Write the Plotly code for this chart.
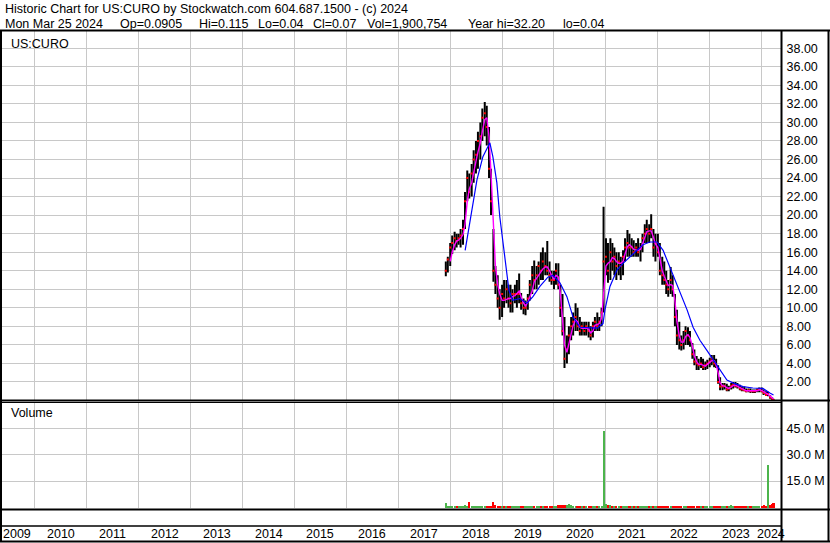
import pandas as pd
import plotly.graph_objects as go

# ---------------------------------------------------------------- data
# half-monthly samples, Dec 2017 -> Mar 25 2024
dates = list(pd.date_range("2017-12-01", "2024-03-15", freq="SMS")) + [pd.Timestamp("2024-03-25")]

high = [
    15.0, 15.5,
    17.0, 17.8, 18.2, 18.0, 18.0, 18.5, 19.5, 22.5, 24.8, 24.5, 25.5, 27.0, 28.0, 29.0, 30.0, 31.5, 32.2, 31.8, 29.5, 25.0, 18.5, 14.5, 13.5, 12.0,
    12.5, 13.0, 13.0, 12.5, 12.5, 12.0, 12.5, 13.0, 13.7, 11.6, 11.0, 10.8, 11.5, 13.0, 14.5, 15.1, 14.5, 15.0, 16.0, 16.5, 16.0, 17.2, 15.0, 14.0,
    14.0, 14.8, 14.8, 12.5, 11.5, 9.0, 7.0, 8.0, 9.0, 9.5, 10.5, 10.0, 9.0, 8.5, 8.5, 8.5, 8.5, 8.0, 8.5, 9.0, 9.5, 9.0, 10.0, 20.9,
    17.5, 17.0, 17.5, 17.0, 16.5, 16.0, 16.0, 15.5, 16.2, 17.5, 18.4, 18.0, 17.5, 17.3, 17.0, 17.5, 17.0, 18.0, 19.0, 19.5, 19.0, 20.1, 18.5, 18.0,
    18.0, 17.0, 15.5, 15.0, 14.0, 13.0, 14.4, 13.5, 11.5, 9.8, 8.5, 7.0, 7.5, 8.0, 7.9, 7.5, 6.2, 5.5, 4.8, 4.5, 4.7, 4.5, 4.2, 4.4,
    4.6, 4.9, 4.9, 4.5, 3.8, 2.5, 1.9, 1.9, 1.8, 1.6, 1.9, 2.0, 2.0, 1.9, 1.7, 1.5, 1.5, 1.3, 1.3, 1.3, 1.2, 1.2, 1.3, 1.4,
    1.4, 1.2, 1.0, 0.95, 0.6, 0.35, 0.115,
]
low = [
    13.4, 13.8,
    14.5, 15.8, 16.2, 16.5, 16.8, 16.5, 16.8, 18.5, 21.5, 21.8, 22.0, 23.5, 24.5, 25.0, 26.0, 28.0, 28.5, 27.5, 24.0, 20.0, 12.8, 11.5, 10.0, 8.7,
    9.0, 10.0, 10.5, 10.0, 9.5, 9.5, 10.5, 10.0, 10.5, 9.8, 9.3, 9.2, 9.8, 10.8, 11.5, 12.0, 12.0, 12.5, 13.0, 13.0, 13.5, 13.5, 12.8, 12.5,
    12.0, 12.5, 12.0, 9.0, 7.0, 3.5, 4.0, 5.0, 6.5, 7.0, 7.5, 7.5, 7.0, 7.0, 7.0, 7.0, 6.8, 6.5, 6.8, 7.5, 7.5, 7.5, 8.0, 9.5,
    13.5, 12.7, 13.0, 14.0, 13.5, 13.0, 13.5, 13.0, 13.5, 15.0, 15.5, 15.5, 15.5, 15.5, 15.5, 15.5, 15.0, 16.0, 17.0, 17.0, 17.0, 17.5, 15.5, 15.0,
    15.5, 13.5, 12.5, 12.5, 11.5, 11.2, 11.5, 11.2, 8.0, 6.0, 5.5, 5.4, 5.5, 6.0, 6.0, 5.8, 4.5, 3.8, 3.3, 3.3, 3.5, 3.3, 3.3, 3.4,
    3.6, 3.8, 3.6, 3.5, 1.8, 1.1, 1.1, 1.2, 1.0, 1.0, 1.2, 1.3, 1.4, 1.3, 1.1, 1.0, 1.0, 0.9, 0.9, 0.8, 0.8, 0.8, 0.9, 0.9,
    0.9, 0.6, 0.5, 0.45, 0.2, 0.04, 0.04,
]
close = [
    14.0, 15.2,
    16.5, 17.0, 17.5, 17.2, 17.5, 17.8, 18.5, 21.5, 24.0, 22.5, 24.5, 26.0, 26.5, 28.0, 28.5, 30.5, 31.0, 29.5, 25.0, 21.5, 14.0, 12.5, 11.0, 10.0,
    11.5, 11.0, 12.0, 11.0, 10.5, 11.5, 11.5, 11.5, 11.5, 10.5, 10.0, 10.0, 11.0, 12.5, 13.5, 13.0, 13.5, 14.5, 14.0, 15.0, 14.5, 14.0, 13.5, 13.0,
    13.0, 14.0, 12.5, 10.0, 7.5, 4.5, 5.5, 7.0, 8.0, 8.5, 9.0, 8.0, 7.5, 8.0, 7.5, 8.0, 7.5, 7.0, 8.0, 8.5, 8.0, 8.5, 9.5, 15.0,
    15.5, 14.0, 16.0, 15.0, 15.5, 14.5, 15.0, 14.5, 15.5, 16.5, 17.0, 16.5, 16.5, 16.0, 16.5, 16.0, 16.5, 17.5, 18.0, 18.5, 18.0, 18.5, 16.5, 17.0,
    16.0, 14.0, 13.5, 13.0, 12.5, 12.0, 13.0, 12.0, 9.0, 7.0, 6.5, 6.0, 6.5, 7.5, 7.0, 6.5, 5.0, 4.2, 4.0, 3.8, 4.0, 3.6, 3.8, 4.0,
    4.2, 4.5, 4.0, 3.8, 2.0, 1.5, 1.5, 1.6, 1.2, 1.3, 1.6, 1.7, 1.6, 1.5, 1.3, 1.2, 1.1, 1.0, 1.1, 1.0, 1.0, 1.0, 1.1, 1.2,
    1.0, 0.8, 0.6, 0.7, 0.35, 0.15, 0.07,
]
ma_fast = [
    None, None,
    15.0, 16.0, 16.8, 17.2, 17.3, 17.5, 17.9, 19.0, 21.5, 22.8, 23.5, 24.8, 25.8, 26.8, 27.8, 29.0, 30.3, 30.5, 28.5, 24.5, 19.0, 14.5, 12.5, 11.5,
    10.8, 10.8, 10.9, 11.0, 11.0, 11.2, 11.3, 11.5, 11.8, 11.2, 10.5, 10.2, 10.6, 11.2, 11.8, 12.8, 13.2, 13.5, 13.8, 14.2, 14.4, 14.4, 14.0, 13.5,
    13.1, 13.5, 13.3, 11.5, 8.8, 6.0, 5.2, 6.2, 7.3, 8.1, 8.7, 8.5, 7.9, 7.8, 7.8, 7.8, 7.7, 7.3, 7.5, 8.1, 8.2, 8.3, 8.9, 11.5,
    14.5, 14.8, 15.0, 15.4, 15.3, 15.0, 14.8, 14.8, 15.0, 15.8, 16.6, 16.8, 16.6, 16.3, 16.2, 16.2, 16.3, 16.9, 17.6, 18.2, 18.3, 18.3, 17.6, 16.9,
    16.5, 15.2, 14.0, 13.4, 12.9, 12.4, 12.5, 12.4, 10.8, 8.5, 7.0, 6.3, 6.3, 6.9, 7.1, 6.8, 5.9, 4.8, 4.2, 3.9, 3.9, 3.8, 3.7, 3.9,
    4.1, 4.3, 4.3, 3.9, 3.0, 1.9, 1.6, 1.55, 1.4, 1.3, 1.45, 1.6, 1.65, 1.55, 1.4, 1.25, 1.15, 1.05, 1.05, 1.05, 1.0, 1.0, 1.05, 1.15,
    1.1, 0.95, 0.8, 0.7, 0.5, 0.3, 0.15,
]
volume_m = [
    2.5, 0.8,
    0.6, 0.5, 0.6, 0.5, 0.7, 0.5, 0.6, 1.2, 0.9, 3.0, 0.6, 0.7, 0.5, 0.6, 0.8, 0.6, 0.7, 0.5, 0.9, 1.0, 3.0, 1.2, 0.8, 0.9,
    0.7, 0.6, 0.8, 0.6, 0.5, 0.7, 0.6, 0.5, 0.6, 0.5, 0.6, 0.7, 0.8, 0.9, 1.0, 0.8, 0.9, 0.8, 1.0, 0.9, 1.1, 1.0, 0.9, 1.0,
    1.1, 1.0, 1.2, 1.3, 1.5, 1.4, 1.2, 1.8, 1.2, 1.0, 0.9, 0.8, 0.7, 0.6, 0.6, 0.7, 0.6, 0.5, 0.6, 0.7, 0.8, 0.7, 1.0, 43.5,
    2.0, 1.5, 1.2, 0.8, 0.6, 0.5, 0.5, 0.4, 0.5, 0.6, 0.7, 0.5, 0.4, 0.4, 0.5, 0.4, 0.4, 0.5, 0.5, 0.6, 0.5, 0.6, 0.7, 0.6,
    0.6, 0.7, 0.6, 0.5, 0.6, 0.5, 0.6, 0.5, 0.9, 0.8, 0.6, 0.5, 0.5, 0.6, 0.5, 0.4, 0.5, 0.6, 0.5, 0.4, 0.4, 0.5, 0.4, 0.5,
    0.5, 0.6, 0.5, 0.6, 1.0, 1.0, 0.8, 0.6, 0.5, 0.4, 1.6, 0.6, 0.5, 0.4, 0.5, 0.4, 0.4, 0.5, 0.4, 0.5, 0.4, 0.5, 0.6, 0.8,
    0.9, 1.2, 1.0, 24.4, 1.5, 1.8, 2.7,
]

# slow moving average (blue), read at its own points
ma_slow_dates = [
    "2018-04-16", "2018-05-21", "2018-07-08", "2018-08-19", "2018-10-07", "2018-10-28", "2018-11-25", "2018-12-16",
    "2019-01-14", "2019-02-04", "2019-02-18", "2019-03-17", "2019-05-06", "2019-06-25", "2019-08-06", "2019-09-24",
    "2019-11-19", "2019-12-24", "2020-02-12", "2020-04-01", "2020-05-14", "2020-07-02", "2020-09-11", "2020-10-30",
    "2020-12-11", "2020-12-25", "2021-01-29", "2021-03-20", "2021-05-01", "2021-06-19", "2021-08-07", "2021-09-18",
    "2021-11-06", "2021-12-26", "2022-02-07", "2022-03-07", "2022-04-17", "2022-06-06", "2022-07-25", "2022-09-06",
    "2022-10-24", "2022-12-12", "2023-01-24", "2023-03-14", "2023-05-02", "2023-06-13", "2023-08-23", "2023-11-01",
    "2024-01-10", "2024-02-28", "2024-03-25",
]
ma_slow = [
    16.2, 19.5, 23.8, 26.3, 27.8, 26.3, 23.5, 19.8,
    16.0, 13.5, 11.9, 10.8, 11.0, 10.5, 11.2, 12.3,
    13.3, 13.5, 12.7, 11.2, 9.0, 7.9, 7.8, 7.8,
    8.3, 9.8, 12.3, 14.1, 14.8, 15.5, 16.2, 16.8,
    17.1, 17.1, 16.2, 15.1, 13.7, 11.6, 9.8, 7.9,
    6.5, 5.4, 4.4, 3.3, 2.2, 1.9, 1.5, 1.35,
    1.3, 0.8, 0.6,
]

years = list(range(2009, 2025))
price_ticks = list(range(2, 40, 2))
vol_ticks = [15e6, 30e6, 45e6]
vol_tick_text = ["15.0 M", "30.0 M", "45.0 M"]

title_line = "Historic Chart for US:CURO by Stockwatch.com 604.687.1500 - (c) 2024"
quote_fields = ["Mon Mar 25 2024", "Op=0.0905", "Hi=0.115", "Lo=0.04", "Cl=0.07",
                "Vol=1,900,754", "Year hi=32.20", "lo=0.04"]
quote_field_x = [3, 118, 197, 256, 311, 365, 466, 561]

# ---------------------------------------------------------------- layout helpers
W, H = 830, 543
FONT = "Liberation Sans, Arial, sans-serif"
GRID = "#c8c8c8"
X0 = pd.Timestamp("2009-04-30")
X1 = pd.Timestamp("2024-05-16 12:00")


def fx(px):
    return px / W


def fy(py):
    return 1 - py / H


# ---------------------------------------------------------------- traces
bar_x, bar_y = [], []
for d, h, l in zip(dates, high, low):
    bar_x += [d, d, None]
    bar_y += [l, h, None]

vol_colors = ["#4cb44c"]
for prev, cur in zip(close[:-1], close[1:]):
    vol_colors.append("#4cb44c" if cur >= prev else "#ff0000")

fig = go.Figure()
fig.add_trace(go.Scatter(x=bar_x, y=bar_y, mode="lines",
                         line=dict(color="black", width=2), xaxis="x", yaxis="y"))
fig.add_trace(go.Scatter(x=dates, y=close, mode="markers",
                         marker=dict(symbol="square", size=2, color="#ff0000"), xaxis="x", yaxis="y"))
fig.add_trace(go.Scatter(x=dates, y=ma_fast, mode="lines",
                         line=dict(color="#ff00ff", width=1.4), xaxis="x", yaxis="y"))
fig.add_trace(go.Scatter(x=ma_slow_dates, y=ma_slow, mode="lines",
                         line=dict(color="#0000ff", width=1.2), xaxis="x", yaxis="y"))
fig.add_trace(go.Bar(x=dates, y=[v * 1e6 for v in volume_m], marker_color=vol_colors,
                     marker_line_width=0, width=15 * 86400000, xaxis="x2", yaxis="y2"))

# ---------------------------------------------------------------- axes
xdom = [0, fx(781)]
xcommon = dict(type="date", dtick="M12", tick0="2010-01-01", showticklabels=False,
               ticks="", showline=False, zeroline=False, domain=xdom)

tickfont = dict(family=FONT, size=12.5, color="black")

fig.update_layout(
    xaxis=dict(**xcommon, range=[X0, X1], showgrid=True, gridcolor=GRID, anchor="y"),
    xaxis2=dict(**xcommon, matches="x", showgrid=True, gridcolor=GRID, anchor="y2"),
    xaxis3=dict(**xcommon, matches="x", showgrid=True, gridcolor="black", anchor="y3"),
    yaxis=dict(domain=[fy(400.5), fy(31)], range=[0, 39.86], side="right",
               tickvals=price_ticks, tickformat=".2f", showgrid=True, gridcolor=GRID,
               zeroline=False, showline=False, ticks="outside", ticklen=2,
               tickcolor="rgba(0,0,0,0)", tickfont=tickfont),
    yaxis2=dict(domain=[fy(508), fy(403)], range=[-0.284e6, 59.38e6], side="right",
                tickvals=vol_ticks, ticktext=vol_tick_text, showgrid=True, gridcolor=GRID,
                zeroline=False, showline=False, ticks="outside", ticklen=2,
                tickcolor="rgba(0,0,0,0)", tickfont=tickfont),
    yaxis3=dict(domain=[fy(541), fy(510)], range=[0, 1], showgrid=False,
                showticklabels=False, zeroline=False, showline=False),
)

# ---------------------------------------------------------------- frame lines
frame = [
    (0, 30.5, 830, 30.5, 2),
    (1, 30, 1, 542, 2),
    (828.5, 30, 828.5, 542, 2),
    (0, 541.5, 830, 541.5, 2),
    (781.5, 30, 781.5, 542, 2),
    (0, 400.5, 830, 400.5, 2),
    (0, 402.5, 781, 402.5, 1),
    (0, 509.5, 830, 509.5, 2),
    (0, 526, 781, 526, 1.5),
]
for x0, y0, x1, y1, w in frame:
    fig.add_shape(type="line", xref="paper", yref="paper",
                  x0=fx(x0), y0=fy(y0), x1=fx(x1), y1=fy(y1),
                  line=dict(color="black", width=w))

# ---------------------------------------------------------------- text
txt = dict(family=FONT, size=12.5, color="black")
notes = [(3, 9, title_line), (9, 44, "US:CURO"), (9, 413, "Volume")]
notes += [(x, 24, t) for x, t in zip(quote_field_x, quote_fields)]
for x, y, t in notes:
    fig.add_annotation(x=fx(x), y=fy(y), xref="paper", yref="paper", text=t,
                       showarrow=False, xanchor="left", yanchor="middle", font=txt)

for yr in years:
    a = max(pd.Timestamp(yr, 1, 1), X0)
    b = min(pd.Timestamp(yr + 1, 1, 1), X1)
    mid = a + (b - a) / 2
    fig.add_annotation(x=mid, y=fy(534), xref="x", yref="paper", text=str(yr),
                       showarrow=False, xanchor="center", yanchor="middle", font=txt)

fig.update_layout(
    width=W, height=H, autosize=False,
    margin=dict(l=0, r=0, t=0, b=0),
    paper_bgcolor="white", plot_bgcolor="white",
    showlegend=False, hovermode=False, bargap=0,
)

# the page's default 8px body margin would push the chart off the window
fig.write_html("out.html", config={"displayModeBar": False},
               post_script="document.body.style.margin='0';document.body.style.overflow='hidden';")
